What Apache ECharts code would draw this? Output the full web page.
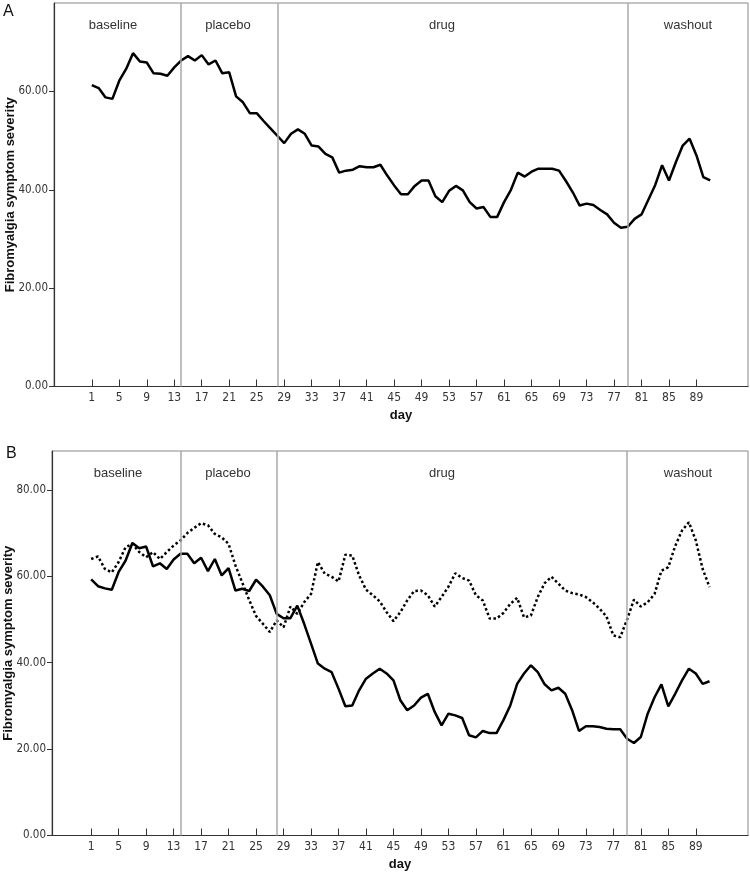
<!DOCTYPE html>
<html>
<head>
<meta charset="utf-8">
<script src="https://cdn.jsdelivr.net/npm/echarts@6/dist/echarts.min.js"></script>
<style>
html,body{margin:0;padding:0;background:#fff;}
#chart{width:750px;height:875px;}
</style>
</head>
<body>
<div id="chart"></div>
<script>
const days = [1,2,3,4,5,6,7,8,9,10,11,12,13,14,15,16,17,18,19,20,21,22,23,24,25,26,27,28,29,30,
31,32,33,34,35,36,37,38,39,40,41,42,43,44,45,46,47,48,49,50,51,52,53,54,55,56,57,58,59,60,
61,62,63,64,65,66,67,68,69,70,71,72,73,74,75,76,77,78,79,80,81,82,83,84,85,86,87,88,89,90,91];

const panelA = [61.3,60.7,58.8,58.5,62.2,64.6,67.8,66.1,65.9,63.7,63.6,63.2,64.9,66.3,67.2,66.3,67.4,65.5,66.3,63.7,
63.9,59.0,57.8,55.6,55.6,54.0,52.5,51.0,49.5,51.4,52.3,51.4,49.0,48.8,47.3,46.6,43.5,43.9,44.1,44.8,
44.6,44.6,45.1,42.9,40.9,39.1,39.1,40.8,41.9,41.9,38.7,37.5,39.8,40.8,39.9,37.5,36.2,36.5,34.5,34.5,
37.5,40.0,43.5,42.7,43.7,44.3,44.3,44.3,43.9,41.8,39.5,36.8,37.2,36.9,35.9,35.0,33.3,32.3,32.5,34.1,
35.0,38.0,41.0,45.0,41.9,45.6,49.0,50.4,47.0,42.6,41.9];

const panelBSolid = [59.3,57.7,57.2,56.9,61.0,63.6,67.7,66.5,66.9,62.3,63.0,61.7,63.9,65.2,65.2,63.0,64.3,61.2,64.0,60.2,
61.9,56.7,57.1,56.6,59.2,57.6,55.6,51.3,50.3,50.3,53.2,49.0,44.4,39.8,38.6,37.8,34.0,29.9,30.1,33.6,
36.3,37.5,38.6,37.5,35.9,31.3,29.0,30.1,31.9,32.8,28.6,25.5,28.2,27.8,27.2,23.2,22.7,24.2,23.7,23.7,
26.7,30.1,35.1,37.5,39.4,37.8,35.0,33.6,34.2,32.8,29.0,24.2,25.3,25.3,25.1,24.7,24.6,24.6,22.4,21.4,
22.8,28.2,32.0,35.0,29.9,32.8,35.9,38.6,37.5,35.1,35.7];

const panelBDotted = [64.0,64.6,61.7,60.9,63.3,66.7,67.5,65.6,64.4,65.6,64.0,65.6,67.1,68.3,70.0,71.2,72.3,71.8,69.8,69.0,
67.5,62.5,58.5,54.5,50.8,49.0,47.1,49.8,48.2,53.0,51.3,54.0,55.9,63.3,60.6,59.9,58.8,65.0,64.8,60.2,
56.9,55.6,54.2,51.7,49.6,51.7,54.4,56.6,56.7,55.6,53.0,55.2,57.6,60.7,59.6,59.0,55.6,54.4,50.2,50.2,
51.5,53.6,55.0,50.5,50.9,55.2,58.4,59.9,58.3,56.7,56.1,55.8,55.2,54.0,52.5,50.7,46.3,45.9,50.0,54.6,
53.0,54.0,55.9,61.3,62.1,67.0,70.6,72.5,68.3,61.7,57.5];

const xTicks = [1,5,9,13,17,21,25,29,33,37,41,45,49,53,57,61,65,69,73,77,81,85,89];
const yTicksA = [0,20,40,60];
const yTicksB = [0,20,40,60,80];
const phaseBounds = [14,28,79];
const phaseNames = ['baseline','placebo','drug','washout'];
const panelLetters = ['A','B'];
const xName = 'day';
const yName = 'Fibromyalgia symptom severity';

const narrow = "'Liberation Sans Narrow','DejaVu Sans Condensed','Liberation Sans',sans-serif";
const sans = "'Liberation Sans',Arial,sans-serif";

function pairs(vals){ return days.map((d,i)=>[d, vals[i]]); }

function xAxisFor(gi, min, max){
  return {
    type:'value', gridIndex:gi, min:min, max:max,
    name:xName, nameLocation:'middle', nameGap:22, nameMoveOverlap:false,
    nameTextStyle:{fontFamily:sans, fontWeight:'bold', fontSize:13, color:'#111'},
    axisLine:{onZero:false, lineStyle:{color:'#333', width:1.2}},
    axisTick:{inside:true, length:7, customValues:xTicks, lineStyle:{color:'#333', width:1}},
    axisLabel:{customValues:xTicks, margin:5, fontFamily:narrow, fontSize:12, color:'#333'},
    splitLine:{show:false}
  };
}
function yAxisFor(gi, max, ticks){
  return {
    type:'value', gridIndex:gi, min:0, max:max,
    name:yName, nameLocation:'middle', nameGap:37, nameMoveOverlap:false,
    nameTextStyle:{fontFamily:sans, fontWeight:'bold', fontSize:13, color:'#111'},
    axisLine:{show:true, onZero:false, lineStyle:{color:'#333', width:1.2}},
    axisTick:{show:true, inside:false, length:5, customValues:ticks, lineStyle:{color:'#333'}},
    axisLabel:{customValues:ticks, margin:6, fontFamily:narrow, fontSize:11.5, color:'#333',
      formatter:v=>v.toFixed(2)},
    splitLine:{show:false}
  };
}
const phaseMark = {
  silent:true, symbol:['none','none'], label:{show:false},
  lineStyle:{color:'#aaa', width:1.5, type:'solid'},
  data: phaseBounds.map(b=>({xAxis:b}))
};

const phaseXA = [113,228,442,688];
const phaseXB = [118,228,442,688];
const graphics = [];
phaseNames.forEach((n,i)=>{
  graphics.push({type:'text', x:phaseXA[i], y:19, style:{text:n, fontFamily:sans, fontSize:13, fill:'#333', textAlign:'center', textVerticalAlign:'top'}});
  graphics.push({type:'text', x:phaseXB[i], y:467, style:{text:n, fontFamily:sans, fontSize:13, fill:'#333', textAlign:'center', textVerticalAlign:'top'}});
});
graphics.push({type:'text', left:3, top:4, style:{text:panelLetters[0], fontFamily:sans, fontSize:16, fill:'#111'}});
graphics.push({type:'text', left:6, top:446, style:{text:panelLetters[1], fontFamily:sans, fontSize:16, fill:'#111'}});

const chart = echarts.init(document.getElementById('chart'), null, {renderer:'canvas'});
chart.setOption({
  animation:false,
  backgroundColor:'#fff',
  grid:[
    {left:54, top:3, width:694, height:383.5, show:true, borderColor:'#888', borderWidth:1, backgroundColor:'#fff', containLabel:false, outerBoundsMode:'none'},
    {left:52, top:451, width:696, height:384.5, show:true, borderColor:'#888', borderWidth:1, backgroundColor:'#fff', containLabel:false, outerBoundsMode:'none'}
  ],
  xAxis:[xAxisFor(0,-4.5,96.5), xAxisFor(1,-4.7,96.6)],
  yAxis:[yAxisFor(0,78,yTicksA), yAxisFor(1,89,yTicksB)],
  series:[
    {type:'line', xAxisIndex:0, yAxisIndex:0, data:pairs(panelA), showSymbol:false,
     lineStyle:{color:'#000', width:2.5}, markLine:phaseMark, z:3},
    {type:'line', xAxisIndex:1, yAxisIndex:1, data:pairs(panelBSolid), showSymbol:false,
     lineStyle:{color:'#000', width:2.5}, markLine:phaseMark, z:3},
    {type:'line', xAxisIndex:1, yAxisIndex:1, data:pairs(panelBDotted), showSymbol:false,
     lineStyle:{color:'#000', width:2.5, type:[2.5,2.5], cap:'butt'}, z:3}
  ],
  graphic:graphics
});
</script>
</body>
</html>
